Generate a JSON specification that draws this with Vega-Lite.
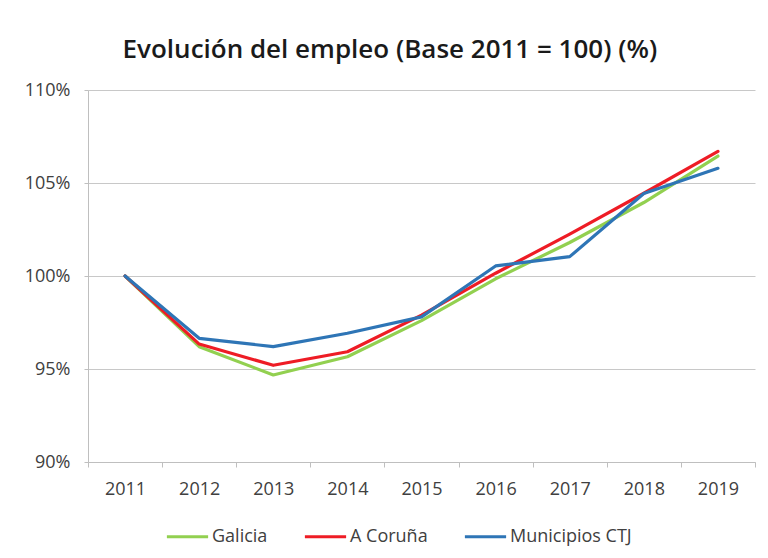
{
  "$schema": "https://vega.github.io/schema/vega-lite/v6.json",
  "width": 667,
  "height": 372,
  "autosize": {"type": "none"},
  "padding": {"left": 88, "top": 90, "right": 13, "bottom": 96},
  "background": "white",
  "title": {
    "text": "Evolución del empleo (Base 2011 = 100) (%)",
    "font": "Open Sans",
    "fontSize": 26,
    "fontWeight": 600,
    "color": "#1a1a1a",
    "anchor": "middle",
    "frame": "bounds",
    "offset": 18
  },
  "data": {
    "values": [
      {"year": "2011", "serie": "Galicia", "valor": 100},
      {"year": "2012", "serie": "Galicia", "valor": 96.2},
      {"year": "2013", "serie": "Galicia", "valor": 94.68},
      {"year": "2014", "serie": "Galicia", "valor": 95.66},
      {"year": "2015", "serie": "Galicia", "valor": 97.6},
      {"year": "2016", "serie": "Galicia", "valor": 99.85},
      {"year": "2017", "serie": "Galicia", "valor": 101.8},
      {"year": "2018", "serie": "Galicia", "valor": 103.95},
      {"year": "2019", "serie": "Galicia", "valor": 106.45},
      {"year": "2011", "serie": "A Coruña", "valor": 100},
      {"year": "2012", "serie": "A Coruña", "valor": 96.34},
      {"year": "2013", "serie": "A Coruña", "valor": 95.2},
      {"year": "2014", "serie": "A Coruña", "valor": 95.93},
      {"year": "2015", "serie": "A Coruña", "valor": 97.9},
      {"year": "2016", "serie": "A Coruña", "valor": 100.15},
      {"year": "2017", "serie": "A Coruña", "valor": 102.25},
      {"year": "2018", "serie": "A Coruña", "valor": 104.45},
      {"year": "2019", "serie": "A Coruña", "valor": 106.7},
      {"year": "2011", "serie": "Municipios CTJ", "valor": 100},
      {"year": "2012", "serie": "Municipios CTJ", "valor": 96.65},
      {"year": "2013", "serie": "Municipios CTJ", "valor": 96.2},
      {"year": "2014", "serie": "Municipios CTJ", "valor": 96.92},
      {"year": "2015", "serie": "Municipios CTJ", "valor": 97.8},
      {"year": "2016", "serie": "Municipios CTJ", "valor": 100.54},
      {"year": "2017", "serie": "Municipios CTJ", "valor": 101.04},
      {"year": "2018", "serie": "Municipios CTJ", "valor": 104.44},
      {"year": "2019", "serie": "Municipios CTJ", "valor": 105.79}
    ]
  },
  "mark": {"type": "line", "strokeWidth": 3.2, "strokeJoin": "round", "strokeCap": "round"},
  "encoding": {
    "x": {
      "field": "year",
      "type": "ordinal",
      "scale": {"type": "band", "paddingInner": 0, "paddingOuter": 0},
      "axis": {
        "title": null,
        "labelAngle": 0,
        "labelFont": "Open Sans",
        "labelFontSize": 18,
        "labelColor": "#404040",
        "labelPadding": 13,
        "tickBand": "extent",
        "tickSize": 5,
        "tickColor": "#bfbfbf",
        "domainColor": "#bfbfbf",
        "grid": false
      }
    },
    "y": {
      "field": "valor",
      "type": "quantitative",
      "scale": {"domain": [90, 110], "nice": false, "zero": false},
      "axis": {
        "title": null,
        "values": [90, 95, 100, 105, 110],
        "labelExpr": "datum.value + '%'",
        "labelFont": "Open Sans",
        "labelFontSize": 18,
        "labelColor": "#404040",
        "labelPadding": 14,
        "tickSize": 4,
        "tickColor": "#bfbfbf",
        "domainColor": "#bfbfbf",
        "gridColor": "#c8c8c8",
        "grid": true
      }
    },
    "color": {
      "field": "serie",
      "type": "nominal",
      "scale": {
        "domain": ["Galicia", "A Coruña", "Municipios CTJ"],
        "range": ["#92D050", "#EE1C25", "#2E75B6"]
      },
      "legend": {
        "title": null,
        "orient": "none",
        "direction": "horizontal",
        "legendX": 77,
        "legendY": 424,
        "symbolType": "stroke",
        "symbolSize": 1700,
        "symbolStrokeWidth": 3.2,
        "labelFont": "Open Sans",
        "labelFontSize": 18,
        "labelColor": "#404040",
        "columnPadding": 30,
        "labelOffset": 2
      }
    }
  },
  "config": {"view": {"stroke": null}}
}
